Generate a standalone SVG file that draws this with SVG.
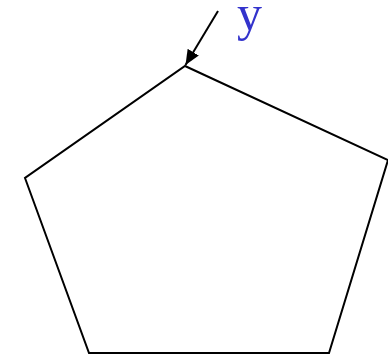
<svg xmlns="http://www.w3.org/2000/svg" width="388" height="356" viewBox="0 0 388 356">
<style>
.shape{fill:none;stroke:#000;stroke-width:2;stroke-linejoin:miter}
.edge{fill:none;stroke:#000;stroke-width:2}
.label{font-family:"Liberation Serif","Times New Roman",serif;font-size:50px;fill:#3333cc}
</style>
<defs>
<marker id="arrow" viewBox="0 0 15 13" refX="15" refY="6.5" markerWidth="15" markerHeight="13" markerUnits="userSpaceOnUse" orient="auto">
<path d="M0,0 L15,6.5 L0,13 z" fill="#000"/>
</marker>
</defs>
<g id="pentagon">
<polygon class="shape" points="185,66 388,160 329,353 89,353 25,178"/>
</g>
<g id="connectors">
<line class="edge" x1="218" y1="11" x2="185.5" y2="65" marker-end="url(#arrow)"/>
</g>
<g id="label-y">
<text class="label" x="237" y="30">y</text>
</g>
</svg>
